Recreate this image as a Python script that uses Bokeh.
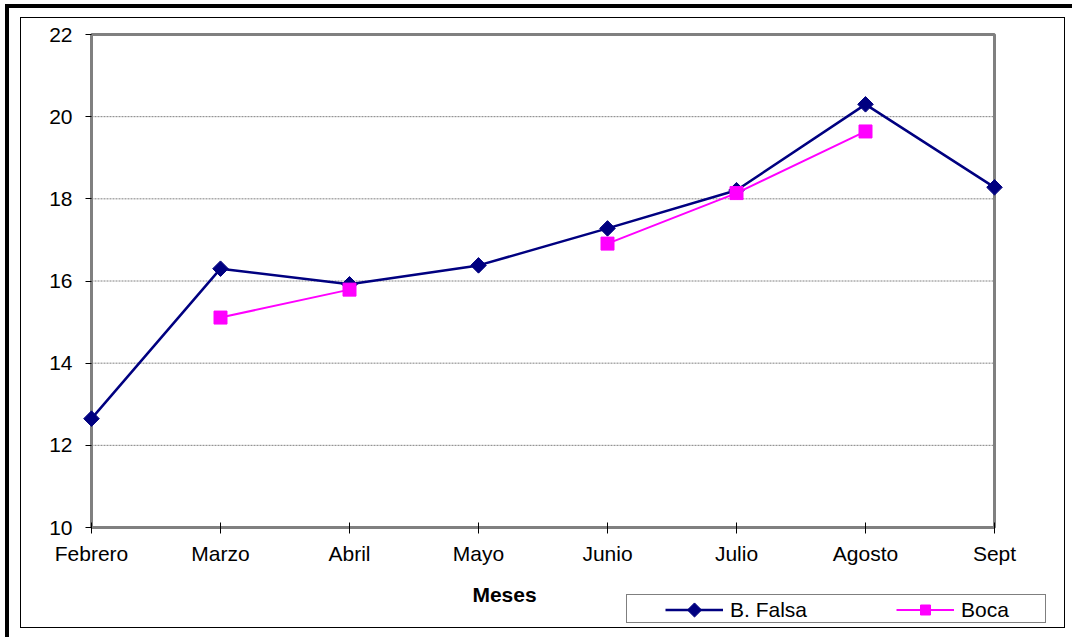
import math
from bokeh.plotting import figure
from bokeh.models import Range1d, FixedTicker, Legend, LegendItem, Label, InlineStyleSheet
from bokeh.embed import file_html
from bokeh.resources import INLINE

months = ["Febrero", "Marzo", "Abril", "Mayo", "Junio", "Julio", "Agosto", "Sept"]
b_falsa = [12.65, 16.30, 15.92, 16.38, 17.28, 18.21, 20.30, 18.28]
boca = [None, 15.11, 15.79, None, 16.91, 18.14, 19.64, None]
y_ticks = [10, 12, 14, 16, 18, 20, 22]
series_names = ["B. Falsa", "Boca"]
x_title = "Meses"

NAN = float("nan")
x_idx = list(range(len(months)))
boca_vals = [NAN if v is None else v for v in boca]
nx = len(months) - 1
y0, y1 = y_ticks[0], y_ticks[-1]

FONT = "Liberation Sans"

# canvas geometry (pixels) of the plot box inside the figure
W, H = 1045, 611
L, R, T, B = 70, 973, 16, 509
xppu = (R - L) / nx
yppu = (B - T) / (y1 - y0)
x_range = Range1d(-L / xppu, nx + (W - R) / xppu)
y_range = Range1d(y0 - (H - B) / yppu, y1 + T / yppu)


def sx_to_data(px):
    return x_range.start + px / xppu


def sy_to_data(py):
    return y_range.end - py / yppu


p = figure(width=W, height=H, x_range=x_range, y_range=y_range,
           output_backend="svg", toolbar_location=None, min_border=0)
p.background_fill_color = "white"
p.border_fill_color = "white"
p.outline_line_color = None
p.xgrid.visible = False
p.ygrid.visible = False

# y axis at x = first category
p.yaxis.fixed_location = 0
p.yaxis.bounds = (y0, y1)
p.yaxis.ticker = FixedTicker(ticks=y_ticks)
p.yaxis.major_tick_in = 0
p.yaxis.major_tick_out = 6
p.yaxis.minor_tick_line_color = None
p.yaxis.major_tick_line_color = "black"
p.yaxis.axis_line_color = None
p.yaxis.major_label_standoff = 13
p.yaxis.major_label_text_font = FONT
p.yaxis.major_label_text_font_size = "21px"
p.yaxis.major_label_text_color = "black"

# x axis at y = lowest tick
p.xaxis.fixed_location = y0
p.xaxis.bounds = (0, nx)
p.xaxis.ticker = FixedTicker(ticks=x_idx)
p.xaxis.major_label_overrides = {i: m for i, m in enumerate(months)}
p.xaxis.major_tick_in = 5
p.xaxis.major_tick_out = 6
p.xaxis.minor_tick_line_color = None
p.xaxis.major_tick_line_color = "black"
p.xaxis.axis_line_color = None
p.xaxis.major_label_standoff = 8
p.xaxis.major_label_text_font = FONT
p.xaxis.major_label_text_font_size = "21px"
p.xaxis.major_label_text_color = "black"

# grid lines inside the plot box
grid_y = y_ticks[1:-1]
p.segment(x0=[0] * len(grid_y), x1=[nx] * len(grid_y), y0=grid_y, y1=grid_y,
          line_color="#808080", line_width=1, line_dash="2 1")

# plot box
p.quad(left=[0], right=[nx], bottom=[y0], top=[y1], fill_alpha=0,
       line_color="#808080", line_width=3)

# series
r1l = p.line(x_idx, b_falsa, line_color="#000080", line_width=2.5)
r1m = p.scatter(x_idx, b_falsa, marker="square", angle=math.pi / 4, size=11,
                fill_color="#000080", line_color="#000080")
r2l = p.line(x_idx, boca_vals, line_color="#FF00FF", line_width=2)
r2m = p.scatter(x_idx, boca_vals, marker="square", size=13,
                fill_color="#FF00FF", line_color="#FF00FF")

# x title
p.add_layout(Label(x=483, y=H - 576, x_units="screen", y_units="screen", text=x_title,
                   text_align="center", text_baseline="alphabetic",
                   text_font=FONT, text_font_size="21px", text_font_style="bold",
                   text_color="black"))

# legend frame (box only)
dummy = p.scatter([], [], marker="square", size=1, fill_alpha=0, line_alpha=0)
legend_box = Legend(items=[LegendItem(label=" ", renderers=[dummy])],
                    location=(605, H - 605), orientation="horizontal",
                    padding=0, spacing=0, margin=0,
                    glyph_width=1, glyph_height=27, label_width=417, label_height=27,
                    label_standoff=0, label_text_font_size="6px",
                    border_line_color="black", border_line_width=1,
                    background_fill_alpha=0)
p.add_layout(legend_box)

LEG_X, LEG_BOTTOM, GW, GH, SPACING, STANDOFF = 644, 604, 58, 25, 89, 7
legend = Legend(items=[LegendItem(label=series_names[0], renderers=[r1l]),
                       LegendItem(label=series_names[1], renderers=[r2l, r2m])],
                location=(LEG_X, H - LEG_BOTTOM), orientation="horizontal",
                padding=0, spacing=SPACING, margin=0,
                glyph_width=GW, glyph_height=GH, label_height=GH, label_standoff=STANDOFF,
                label_text_font=FONT, label_text_font_size="21px", label_text_color="black",
                border_line_alpha=0, background_fill_alpha=0)
p.add_layout(legend)

# diamond key of the first legend entry (legend glyphs are drawn unrotated)
key_sx = LEG_X + GW / 2
key_sy = LEG_BOTTOM - GH / 2
p.scatter([sx_to_data(key_sx)], [sy_to_data(key_sy)], marker="square", angle=math.pi / 4,
          size=10, fill_color="#000080", line_color="#000080")

p.stylesheets = [InlineStyleSheet(css=(
    ":host { border: 1px solid black; "
    "transform: translate(20px, 17px) !important; "
    "box-shadow: -2px 0px 0px 9px white, -4px -2px 0px 11px black; }"
))]

open("out.html", "w").write(file_html(p, INLINE))
